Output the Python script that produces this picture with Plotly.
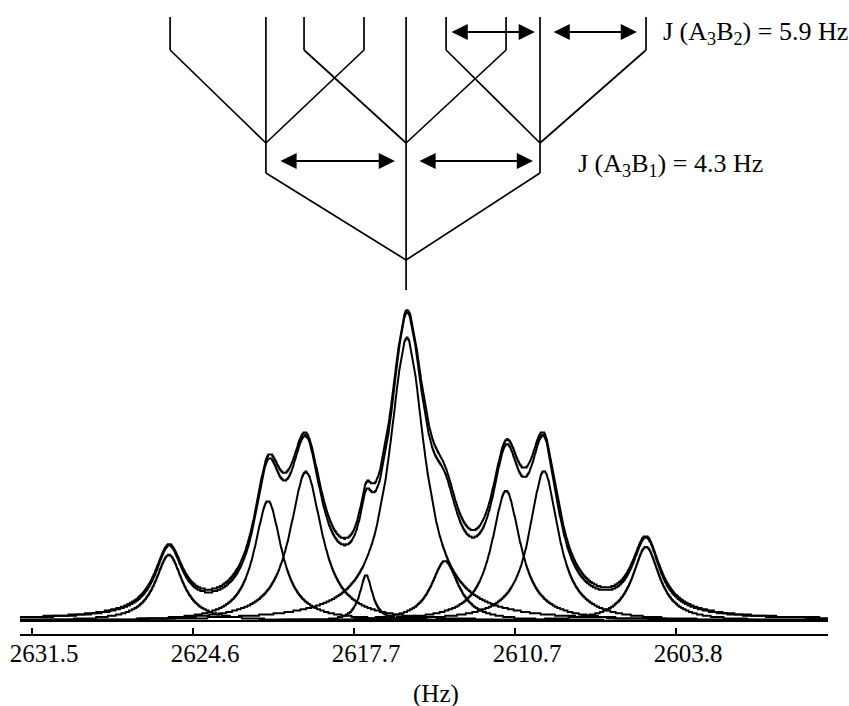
import numpy as np
import plotly.graph_objects as go

# ---------------- data ----------------
# line positions (Hz), heights (a.u.) and half-widths (Hz) of the fitted components
line_pos_hz = [2625.61, 2621.35, 2619.72, 2617.13, 2615.37, 2613.74, 2611.11, 2609.48, 2605.09]
line_height = [66, 120, 149, 46, 283, 60, 130, 150, 74]
line_hwhm_fit = [0.714, 0.714, 0.839, 0.335, 0.925, 0.714, 0.753, 0.753, 0.714]
# observed spectrum (slightly broader lines)
line_hwhm_obs = [0.748, 0.748, 0.882, 0.353, 0.968, 0.748, 0.796, 0.796, 0.748]

# axis
tick_vals = [2631.5, 2624.575, 2617.65, 2610.725, 2603.8]
tick_text = ["2631.5", "2624.6", "2617.7", "2610.7", "2603.8"]
x_range = [2632.016, 2597.264]
y_range = [-13, 616]

# splitting tree (Hz positions, levels in the same vertical units)
tree_root_hz = 2615.41
tree_nodes_hz = [2621.44, 2615.41, 2609.65]
tree_leaves_hz = [[2625.56, 2621.44, 2617.22],
                  [2619.80, 2615.41, 2611.11],
                  [2613.69, 2609.65, 2605.09]]
lvl_stem_bottom, lvl_root, lvl_node_low, lvl_node_high, lvl_leaf, lvl_top = 331, 361, 448, 478, 571, 604

# coupling arrows: (start Hz, end Hz, level)
arrows = [(2613.52, 2609.87, 589), (2609.13, 2605.48, 589),
          (2620.88, 2615.89, 460), (2614.90, 2609.95, 460)]
labels = [("J (A<sub>3</sub>B<sub>2</sub>) = 5.9 Hz", 2604.45, 588),
          ("J (A<sub>3</sub>B<sub>1</sub>) = 4.3 Hz", 2608.10, 456)]

# ---------------- build curves ----------------
x = np.arange(2597.2, 2632.1, 0.01)
q = 1.3  # digitisation step of the plotted spectra


def lorentz(x0, h, w):
    return h * w * w / ((x - x0) ** 2 + w * w)


def digit(y):
    return np.round(y / q) * q


comps = [lorentz(p, h, w) for p, h, w in zip(line_pos_hz, line_height, line_hwhm_fit)]
fit_sum = np.sum(comps, axis=0)
obs = np.sum([lorentz(p, h, w) for p, h, w in zip(line_pos_hz, line_height, line_hwhm_obs)], axis=0)

fig = go.Figure()
lw = 2
for c in comps:
    fig.add_trace(go.Scatter(x=x, y=digit(c), mode="lines", line=dict(color="black", width=lw),
                             hoverinfo="skip", showlegend=False))
fig.add_trace(go.Scatter(x=x, y=digit(fit_sum), mode="lines", line=dict(color="black", width=lw),
                         hoverinfo="skip", showlegend=False))
fig.add_trace(go.Scatter(x=x, y=digit(obs), mode="lines", line=dict(color="black", width=lw),
                         hoverinfo="skip", showlegend=False))

# tree
tx, ty = [], []


def seg(x0, y0, x1, y1):
    tx.extend([x0, x1, None])
    ty.extend([y0, y1, None])


seg(tree_root_hz, lvl_stem_bottom, tree_root_hz, lvl_root)
for n, leaves in zip(tree_nodes_hz, tree_leaves_hz):
    if n == tree_root_hz:
        seg(n, lvl_root, n, lvl_node_high)
    else:
        seg(tree_root_hz, lvl_root, n, lvl_node_low)
        seg(n, lvl_node_low, n, lvl_node_high)
    for lf in leaves:
        if lf == n:
            seg(n, lvl_node_high, n, lvl_top)
        else:
            seg(n, lvl_node_high, lf, lvl_leaf)
            seg(lf, lvl_leaf, lf, lvl_top)

fig.add_trace(go.Scatter(x=tx, y=ty, mode="lines", line=dict(color="black", width=1.7),
                         hoverinfo="skip", showlegend=False))

font = "Liberation Serif, Times New Roman, serif"
annotations = []
for a0, a1, lv in arrows:
    annotations.append(dict(x=a1, y=lv, ax=a0, ay=lv, xref="x", yref="y", axref="x", ayref="y",
                            text="", showarrow=True, arrowhead=2, startarrowhead=2,
                            arrowside="end+start", arrowwidth=1.8, arrowsize=1.8,
                            startarrowsize=1.8, arrowcolor="black", standoff=0, startstandoff=0))
for t, lx, ly in labels:
    annotations.append(dict(x=lx, y=ly, xref="x", yref="y", text=t, showarrow=False,
                            xanchor="left", yanchor="middle", font=dict(family=font, size=26, color="black")))
annotations.append(dict(x=0.5149, y=-0.096, xref="paper", yref="paper", text="(Hz)", showarrow=False,
                        xanchor="center", yanchor="middle", font=dict(family=font, size=25, color="black")))

fig.update_layout(
    width=849, height=706,
    margin=dict(l=20, r=21, t=5, b=72, autoexpand=False),
    paper_bgcolor="white", plot_bgcolor="white",
    showlegend=False,
    annotations=annotations,
    xaxis=dict(range=x_range, tickvals=tick_vals, ticktext=tick_text, ticks="inside", ticklen=6,
               tickwidth=1.5, tickcolor="black", showline=True, linecolor="black", linewidth=1.5,
               showgrid=False, zeroline=False, ticklabelshift=-12, ticklabelstandoff=-4,
               ticklabeloverflow="allow", automargin=False,
               tickfont=dict(family=font, size=25, color="black")),
    yaxis=dict(range=y_range, visible=False, showgrid=False, zeroline=False, automargin=False),
)

fig.write_html("out.html", config={"displayModeBar": False},
               post_script="document.body.style.margin='0';")
